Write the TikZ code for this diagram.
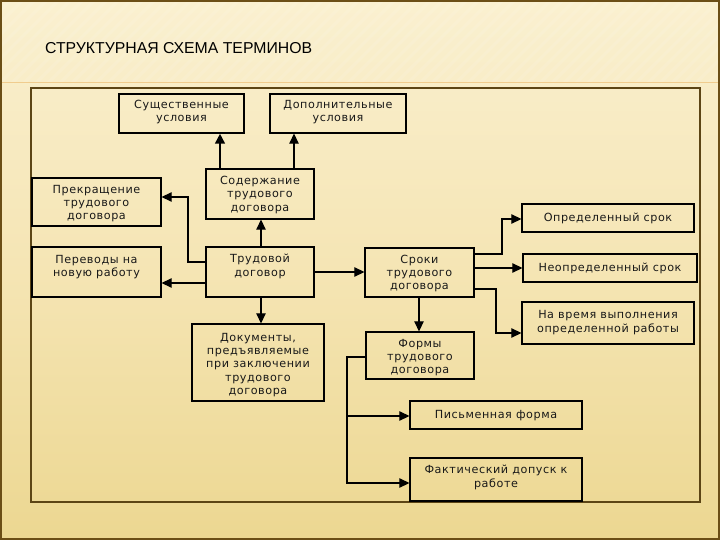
\documentclass[tikz,border=0pt]{standalone}
\usepackage{fontspec}
\setmainfont{DejaVu Sans}
\newfontfamily\boxfont[LetterSpace=5]{DejaVu Sans}
\newfontfamily\titlefont{Liberation Sans}
\usetikzlibrary{arrows.meta}
\definecolor{bgtop}{HTML}{FAF0D0}
\definecolor{bgmid}{HTML}{F5E5B4}
\definecolor{bgbot}{HTML}{ECD791}
\definecolor{framec}{HTML}{5C4515}
\definecolor{edgec}{HTML}{6B4E16}
\definecolor{hline}{HTML}{F0CC8E}
\tikzset{
  box/.style={draw=black, line width=1.3pt, inner sep=0pt},
  txt/.style={font=\boxfont\fontsize{11.2}{13.4}\selectfont, align=center, inner sep=0pt, text=black!90},
  arr/.style={draw=black, line width=1.2pt, -{Triangle[length=10pt,width=9.5pt]}},
  conn/.style={draw=black, line width=1.2pt},
}
\begin{document}
\begin{tikzpicture}[x=1pt,y=-1pt]
\useasboundingbox (0,0) rectangle (720,540);
% background
\shade[top color=bgtop, bottom color=bgbot, middle color=bgmid] (0,0) rectangle (720,540);
\foreach \i in {-540,-528,...,720} {
  \draw[white, opacity=0.10, line width=3pt] (\i,83) -- (\i+83,0);
}
\draw[hline, line width=1pt] (0,83) -- (720,83);
\draw[edgec, line width=1.6pt] (0.8,0.8) rectangle (719.2,539.2);
% title
\node[font=\titlefont\fontsize{15.8}{18}\selectfont, anchor=west, inner sep=0pt, text=black] (title) at (45,48.5) {СТРУКТУРНАЯ СХЕМА ТЕРМИНОВ};
% frame
\draw[framec, line width=1.1pt] (31,88) rectangle (700,502);
% boxes
\node[box, minimum width=125pt, minimum height=39pt] (sush) at (181.5,113.5) {};
\node[txt] at (181.5,112) {Существенные\\условия};
\node[box, minimum width=136pt, minimum height=39pt] (dop) at (338,113.5) {};
\node[txt] at (338,112) {Дополнительные\\условия};
\node[box, minimum width=108pt, minimum height=50pt] (sod) at (260,194) {};
\node[txt] at (260,195) {Содержание\\трудового\\договора};
\node[box, minimum width=129pt, minimum height=48pt] (prek) at (96.5,202) {};
\node[txt] at (96.5,203.5) {Прекращение\\трудового\\договора};
\node[box, minimum width=129pt, minimum height=50pt] (perev) at (96.5,272) {};
\node[txt] at (96.5,267) {Переводы на\\новую работу};
\node[box, minimum width=108pt, minimum height=50pt] (trud) at (260,272) {};
\node[txt] at (260,266.5) {Трудовой\\договор};
\node[box, minimum width=109pt, minimum height=49pt] (sroki) at (419.5,272.5) {};
\node[txt] at (419.5,273.5) {Сроки\\трудового\\договора};
\node[box, minimum width=172pt, minimum height=28pt] (opr) at (608,218) {};
\node[txt] at (608,218) {Определенный срок};
\node[box, minimum width=174pt, minimum height=28pt] (neopr) at (610,268) {};
\node[txt] at (610,268.5) {Неопределенный срок};
\node[box, minimum width=172pt, minimum height=42pt] (navr) at (608,323) {};
\node[txt] at (608,322.5) {На время выполнения\\определенной работы};
\node[box, minimum width=108pt, minimum height=47pt] (formy) at (420,355.5) {};
\node[txt] at (420,357.5) {Формы\\трудового\\договора};
\node[box, minimum width=132pt, minimum height=77pt] (doc) at (258,362.5) {};
\node[txt] at (258,365) {Документы,\\предъявляемые\\при заключении\\трудового\\договора};
\node[box, minimum width=172pt, minimum height=28pt] (pism) at (496,415) {};
\node[txt] at (496,415.5) {Письменная форма};
\node[box, minimum width=172pt, minimum height=43pt] (fakt) at (496,479.5) {};
\node[txt] at (496,477.5) {Фактический допуск к\\работе};
% connectors
\draw[arr, line width=2.6pt] (sod.north -| 220,0) -- (sush.south -| 220,0);
\draw[arr] (sod.north -| 294,0) -- (dop.south -| 294,0);
\draw[arr] (trud.north -| 261,0) -- (sod.south -| 261,0);
\draw[arr] (trud.west |- 0,262) -| (188,197) -- (prek.east |- 0,197);
\draw[arr] (trud.west |- 0,283) -- (perev.east |- 0,283);
\draw[arr] (trud.east |- 0,272) -- (sroki.west |- 0,272);
\draw[arr] (trud.south -| 261,0) -- (doc.north -| 261,0);
\draw[arr] (sroki.east |- 0,254) -| (502,219) -- (opr.west |- 0,219);
\draw[arr] (sroki.east |- 0,268) -- (neopr.west |- 0,268);
\draw[arr] (sroki.east |- 0,289) -| (496,333) -- (navr.west |- 0,333);
\draw[arr] (sroki.south -| 419,0) -- (formy.north -| 419,0);
\coordinate (fj) at (347,416);
\draw[conn] (formy.west |- 0,357) -- (347,357);
\draw[conn, line width=2.2pt] (347,356) -- (347,483.6);
\draw[arr] (fj) -- (pism.west |- fj);
\draw[arr] (347,483) -- (fakt.west |- 0,483);
\end{tikzpicture}
\end{document}
